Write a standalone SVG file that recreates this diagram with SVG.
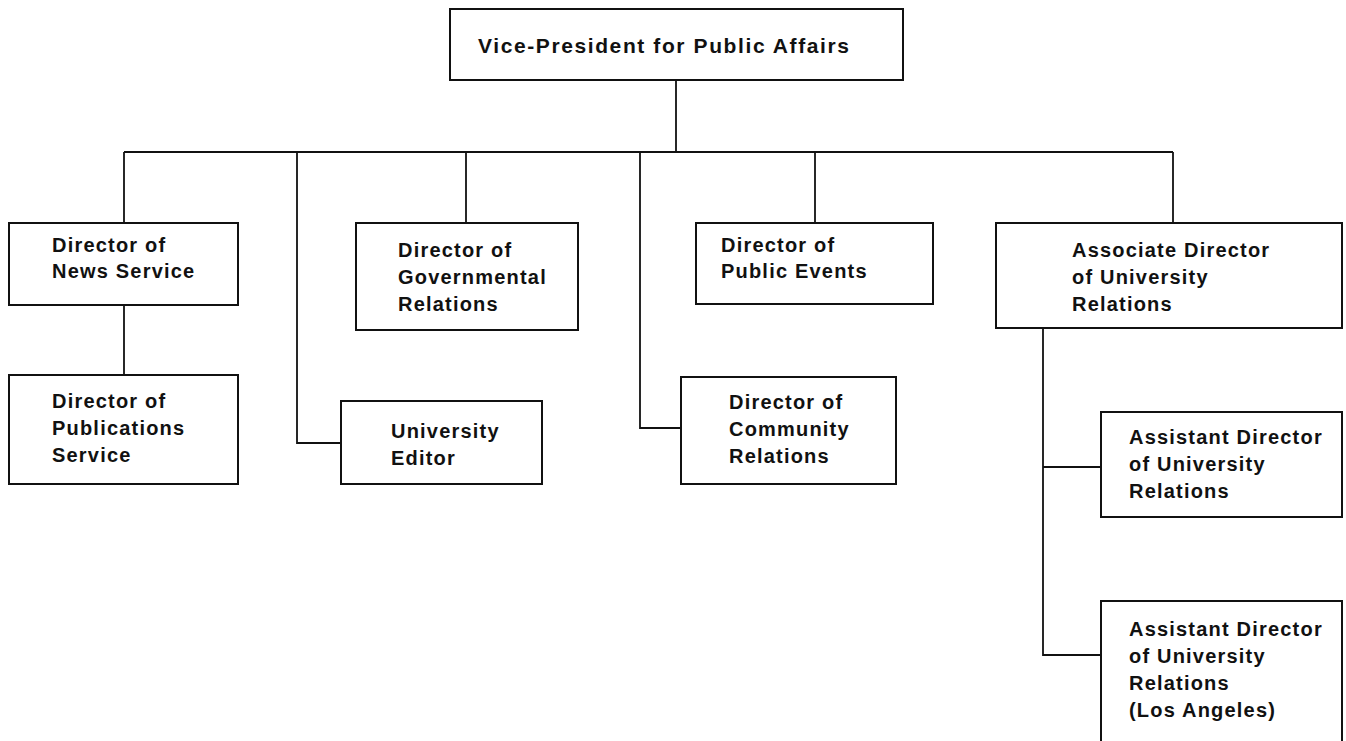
<svg xmlns="http://www.w3.org/2000/svg" width="1346" height="741" viewBox="0 0 1346 741">
  <style>
    .box { fill: #ffffff; stroke: #111111; stroke-width: 2; }
    .wire { fill: none; stroke: #111111; stroke-width: 1.8; }
    .lbl { font-family: "Liberation Sans", Arial, sans-serif; font-weight: bold; font-size: 20px; letter-spacing: 1.2px; fill: #111111; }
    .title { font-size: 21px; letter-spacing: 1.6px; }
  </style>
  <rect width="1346" height="741" fill="#ffffff"/>

  <!-- reporting lines -->
  <g id="connectors">
    <path class="wire" d="M676 80 V152"/>
    <path class="wire" d="M124 152 H1173"/>
    <path class="wire" d="M124 152 V223"/>
    <path class="wire" d="M466 152 V223"/>
    <path class="wire" d="M815 152 V223"/>
    <path class="wire" d="M1173 152 V223"/>
    <path class="wire" d="M297 152 V443 H341"/>
    <path class="wire" d="M640 152 V428 H681"/>
    <path class="wire" d="M124 305 V375"/>
    <path class="wire" d="M1043 328 V655 H1101"/>
    <path class="wire" d="M1043 467 H1101"/>
  </g>

  <g id="vp-public-affairs">
    <rect class="box" x="450" y="9" width="453" height="71"/>
    <text class="lbl title" x="478" y="53">Vice-President for Public Affairs</text>
  </g>

  <g id="news-service">
    <rect class="box" x="9" y="223" width="229" height="82"/>
    <text class="lbl" x="52" y="252">Director of</text>
    <text class="lbl" x="52" y="278">News Service</text>
  </g>

  <g id="publications-service">
    <rect class="box" x="9" y="375" width="229" height="109"/>
    <text class="lbl" x="52" y="408">Director of</text>
    <text class="lbl" x="52" y="435">Publications</text>
    <text class="lbl" x="52" y="462">Service</text>
  </g>

  <g id="governmental-relations">
    <rect class="box" x="356" y="223" width="222" height="107"/>
    <text class="lbl" x="398" y="257">Director of</text>
    <text class="lbl" x="398" y="284">Governmental</text>
    <text class="lbl" x="398" y="311">Relations</text>
  </g>

  <g id="university-editor">
    <rect class="box" x="341" y="401" width="201" height="83"/>
    <text class="lbl" x="391" y="438">University</text>
    <text class="lbl" x="391" y="465">Editor</text>
  </g>

  <g id="public-events">
    <rect class="box" x="696" y="223" width="237" height="81"/>
    <text class="lbl" x="721" y="252">Director of</text>
    <text class="lbl" x="721" y="278">Public Events</text>
  </g>

  <g id="community-relations">
    <rect class="box" x="681" y="377" width="215" height="107"/>
    <text class="lbl" x="729" y="409">Director of</text>
    <text class="lbl" x="729" y="436">Community</text>
    <text class="lbl" x="729" y="463">Relations</text>
  </g>

  <g id="university-relations">
    <rect class="box" x="996" y="223" width="346" height="105"/>
    <text class="lbl" x="1072" y="257">Associate Director</text>
    <text class="lbl" x="1072" y="284">of University</text>
    <text class="lbl" x="1072" y="311">Relations</text>
  </g>

  <g id="assistant-university-relations">
    <rect class="box" x="1101" y="412" width="241" height="105"/>
    <text class="lbl" x="1129" y="444">Assistant Director</text>
    <text class="lbl" x="1129" y="471">of University</text>
    <text class="lbl" x="1129" y="498">Relations</text>
  </g>

  <g id="assistant-university-relations-la">
    <rect class="box" x="1101" y="601" width="241" height="150"/>
    <text class="lbl" x="1129" y="636">Assistant Director</text>
    <text class="lbl" x="1129" y="663">of University</text>
    <text class="lbl" x="1129" y="690">Relations</text>
    <text class="lbl" x="1129" y="717">(Los Angeles)</text>
  </g>
</svg>
